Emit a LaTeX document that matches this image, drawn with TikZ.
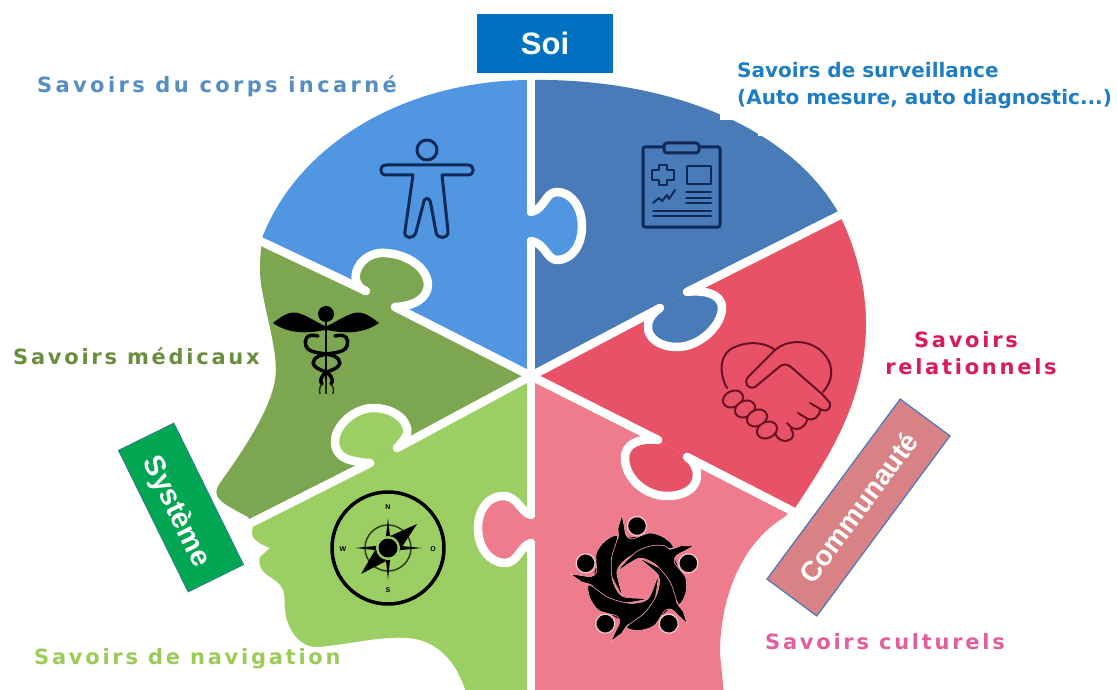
\documentclass[tikz,border=0pt]{standalone}
\usepackage{fontspec}
\setmainfont{Liberation Sans}
\newfontfamily\lblfont[LetterSpace=13]{DejaVu Sans Bold}
\newfontfamily\lblwide[LetterSpace=16]{DejaVu Sans Bold}
\newfontfamily\lbltight[LetterSpace=0]{DejaVu Sans Bold}
\definecolor{cBlue}{HTML}{5096E0}
\definecolor{cDBlue}{HTML}{4A7BB9}
\definecolor{cRed}{HTML}{E85266}
\definecolor{cPink}{HTML}{EF7C8C}
\definecolor{cLGreen}{HTML}{9BCF63}
\definecolor{cDGreen}{HTML}{7CA650}
\definecolor{cNavy}{HTML}{0F2A57}
\definecolor{cMaroon}{HTML}{6A1024}
\definecolor{cSoi}{RGB}{0,112,192}
\definecolor{cSys}{RGB}{0,166,81}
\definecolor{cSysB}{RGB}{70,100,170}
\definecolor{cCom}{RGB}{216,130,134}
\definecolor{cComB}{RGB}{70,120,190}
\definecolor{tCorps}{RGB}{86,142,196}
\definecolor{tSurv}{RGB}{30,125,195}
\definecolor{tMed}{RGB}{107,142,62}
\definecolor{tRel}{RGB}{216,27,95}
\definecolor{tCul}{RGB}{224,96,158}
\definecolor{tNav}{RGB}{155,203,88}
\tikzset{
  divider/.style={white,line width=8.5pt,line join=round,line cap=round},
  boxtext/.style={text=white,inner sep=0pt,align=center},
  lbl/.style={anchor=west,inner sep=0pt,font=\lblfont\fontsize{21}{21}\selectfont},
  lbltwo/.style={anchor=west,inner sep=0pt,font=\lbltight\fontsize{20}{20}\selectfont,text=tSurv},
  icon/.style={cNavy,line width=3pt,line join=round,line cap=round},
  shake/.style={cMaroon,line width=2pt,line join=round,line cap=round},
  cpt/.style={font=\bfseries\fontsize{7}{7}\selectfont,inner sep=0pt},
}
\newcommand\tabpiece[2]{%
  \fill[#1] #2 -- cycle;
  \draw[divider] #2;
}
\begin{document}
\begin{tikzpicture}[x=1pt,y=-1pt]
\useasboundingbox (0,0) rectangle (1117,690);
\fill[white] (0,0) rectangle (1117,690);
\coordinate (C) at (531,376);
% head and its sectors
\begin{scope}
\clip (262,238) .. controls (300,140) and (410,80) .. (531,80)
 .. controls (655,78) and (785,120) .. (838,212)
 .. controls (855,245) and (866,285) .. (866,323)
 .. controls (866,400) and (830,455) .. (795,508)
 -- (783,518) .. controls (740,545) and (720,600) .. (720,653) -- (724,695)
 -- (467,695) .. controls (458,665) and (440,640) .. (407,638)
 .. controls (380,636) and (345,645) .. (318,647)
 .. controls (300,648) and (287,630) .. (285,610)
 .. controls (284,600) and (286,592) .. (280,585)
 .. controls (275,578) and (262,575) .. (260,565)
 .. controls (259,561) and (259,558) .. (260,557)
 -- (270,548) .. controls (262,545) and (252,540) .. (252,533)
 -- (253,525) -- (248,517)
 .. controls (235,510) and (225,505) .. (220,500)
 .. controls (215,495) and (215,490) .. (220,483)
 .. controls (245,448) and (270,410) .. (275,380)
 .. controls (280,350) and (260,300) .. (260,270)
 .. controls (260,258) and (261,248) .. (262,238) -- cycle;
\fill[cBlue] (C) -- (395,307) -- (366,291) -- (263,243) -- (150,190) -- (150,0) -- (531,0) -- cycle;
\fill[cDBlue] (C) -- (531,0) -- (950,0) -- (950,160) -- (845,213) -- (687,292) -- (660,308) -- cycle;
\fill[cRed] (C) -- (660,308) -- (687,292) -- (845,213) -- (950,160) -- (950,570) -- (797,513) -- (687,457) -- (658,440) -- cycle;
\fill[cPink] (C) -- (658,440) -- (687,457) -- (797,513) -- (950,570) -- (950,700) -- (531,700) -- cycle;
\fill[cLGreen] (C) -- (531,700) -- (150,700) -- (150,570) -- (243,527) -- (370,463) -- (397,448) -- cycle;
\fill[cDGreen] (C) -- (397,448) -- (370,463) -- (243,527) -- (150,570) -- (150,190) -- (263,243) -- (366,291) -- (395,307) -- cycle;
\end{scope}
% straight dividers
\draw[divider] (531,74) -- (531,212);
\draw[divider] (531,241) -- (531,515);
\draw[divider] (531,543) -- (531,692);
\draw[divider] (258,240) -- (366,291);
\draw[divider] (395,307) -- (C);
\draw[divider] (846,212) -- (687,292);
\draw[divider] (660,308) -- (C);
\draw[divider] (C) -- (658,440);
\draw[divider] (687,457) -- (798,514);
\draw[divider] (C) -- (397,448);
\draw[divider] (370,463) -- (243,527);
% puzzle tabs
\tabpiece{cBlue}{(531,212) .. controls (545,209) and (545,192) .. (557,192) .. controls (572,192) and (582,208) .. (582,226) .. controls (582,245) and (572,260) .. (557,260) .. controls (547,260) and (545,243) .. (531,241)}
\tabpiece{cDGreen}{(366,291) .. controls (355,287) and (353,275) .. (359,266) .. controls (364,257) and (375,252) .. (385,253) .. controls (408,254) and (427,268) .. (428,284) .. controls (428,298) and (415,306) .. (395,307)}
\tabpiece{cDBlue}{(687,292) .. controls (700,290) and (722,292) .. (722,308) .. controls (722,325) and (700,347) .. (677,347) .. controls (660,347) and (647,338) .. (648,326) .. controls (648,318) and (654,312) .. (660,308)}
\tabpiece{cRed}{(658,440) .. controls (640,438) and (625,443) .. (625,458) .. controls (625,478) and (645,496) .. (667,496) .. controls (685,496) and (697,488) .. (697,475) .. controls (697,467) and (693,461) .. (687,457)}
\tabpiece{cPink}{(531,515) .. controls (520,512) and (518,496) .. (503,496) .. controls (488,496) and (478,510) .. (478,528) .. controls (478,548) and (490,563) .. (505,563) .. controls (518,563) and (520,546) .. (531,543)}
\tabpiece{cLGreen}{(397,448) .. controls (403,441) and (409,435) .. (407,428) .. controls (404,416) and (390,408) .. (373,408) .. controls (355,408) and (335,425) .. (335,442) .. controls (335,452) and (342,458) .. (350,460) .. controls (358,462) and (364,463) .. (370,463)}
% patch left by the label's white background
\fill[white] (720,55) -- (720,120) -- (747,120) -- (758,128) -- (758,136) -- (785,136) -- (785,55) -- cycle;
% person icon
\draw[icon] (427,150) circle (10);
\draw[icon] (386,165) -- (468,165) .. controls (475,165) and (475,175) .. (468,175) -- (442,175) -- (448,231) .. controls (449,239) and (437,240) .. (436,232) -- (431,205) .. controls (430,196) and (424,196) .. (423,205) -- (416,232) .. controls (414,240) and (403,239) .. (405,231) -- (413,175) -- (386,175) .. controls (379,175) and (379,165) .. (386,165) -- cycle;
% clipboard icon
\draw[icon,rounded corners=2pt] (643,147) rectangle (720,227);
\draw[icon,fill=cDBlue,rounded corners=3pt] (664,143) rectangle (699,153);
\draw[icon,line width=2.5pt] (659,165) -- (667,165) -- (667,170) -- (674,170) -- (674,180) -- (667,180) -- (667,185) -- (659,185) -- (659,180) -- (652,180) -- (652,170) -- (659,170) -- cycle;
\draw[icon,line width=2.5pt] (687,166) rectangle (711,184);
\draw[icon,line width=2pt] (653,203) -- (659,198) -- (662,201) -- (667,195) -- (669,199) -- (675,190);
\foreach \yy in {192,198,203} \draw[icon,line width=2pt] (686,\yy) -- (711,\yy);
\foreach \yy in {211,216} \draw[icon,line width=2pt] (653,\yy) -- (711,\yy);
% caduceus icon
\fill[black] (326,314) circle (8);
\fill[black] (273,323) .. controls (283,315) and (290,311) .. (298,313) .. controls (308,316) and (316,322) .. (325,326) -- (325,330) .. controls (310,333) and (290,335) .. (273,323) -- cycle;
\fill[black] (379,323) .. controls (369,315) and (362,311) .. (354,313) .. controls (344,316) and (336,322) .. (327,326) -- (327,330) .. controls (342,333) and (362,335) .. (379,323) -- cycle;
\draw[black,line width=2.5pt] (326,322) -- (326,380);
\draw[black,line width=3.5pt,line cap=round] (318,336) .. controls (306,333) and (304,340) .. (306,346) .. controls (309,354) and (322,352) .. (334,356) .. controls (342,360) and (342,366) .. (332,370) .. controls (324,373) and (318,378) .. (322,384);
\draw[black,line width=3.5pt,line cap=round] (335,336) .. controls (347,333) and (349,340) .. (347,346) .. controls (344,354) and (331,352) .. (319,356) .. controls (311,360) and (311,366) .. (321,370) .. controls (329,373) and (335,378) .. (331,384);
\draw[black!75!cDGreen,line width=1.4pt] (322,384) .. controls (319,388) and (319,391) .. (320,394);
\draw[black!75!cDGreen,line width=1.4pt] (331,384) .. controls (334,388) and (334,391) .. (333,394);
\draw[black!75!cDGreen,line width=1.2pt] (326,380) -- (326,394);
% handshake icon
\draw[shake] (727,388) .. controls (718,372) and (720,352) .. (735,347) .. controls (748,341) and (765,342) .. (775,350) -- (748,377) .. controls (743,384) and (749,390) .. (755,387) -- (778,368) .. controls (783,363) and (787,364) .. (791,367) -- (822,394);
\draw[shake] (775,350) .. controls (785,341) and (805,338) .. (820,350) .. controls (834,362) and (835,378) .. (823,392);
\draw[shake] (822,394) -- (830,403) .. controls (831,409) and (827,412) .. (822,410) -- (810,403);
\draw[shake] (820,409) .. controls (820,417) and (813,421) .. (808,419) -- (798,413);
\draw[shake] (807,420) .. controls (805,428) and (797,431) .. (792,428) -- (787,423);
\draw[shake] (775,432) .. controls (776,440) and (786,444) .. (792,438) .. controls (794,435) and (793,432) .. (791,429);
\foreach \px/\py in {733/399,745/409,757/418,767/430}
  \filldraw[shake,fill=cRed,rotate around={25:(\px,\py)}] (\px,\py) ellipse (10.5 and 8);
% compass icon
\draw[black,line width=3.5pt] (388,548) circle (56);
\draw[black!70!cLGreen,line width=1.5pt] (388,548) circle (23);
\fill[black] (388,518) -- (391,545) -- (422,548) -- (391,551) -- (388,580) -- (385,551) -- (355,548) -- (385,545) -- cycle;
\fill[black] (417,524) -- (396,556) -- (361,574) -- (381,540) -- cycle;
\fill[cLGreen] (388,548) circle (12);
\fill[black] (388,548) circle (9.5);
\node[cpt] (cN) at (388,507) {N};
\node[cpt] (cS) at (388,590) {S};
\node[cpt] (cW) at (343,549) {W};
\node[cpt] (cO) at (433,549) {O};
% people ring icon
\fill[black,even odd rule] (637,580) circle (43) (637,580) circle (25);
\foreach \a in {0,72,144,216,288}{
\begin{scope}[shift={(637,580)},rotate=\a]
\filldraw[black,draw=cPink!70!white,line width=0.6pt] plot[smooth,tension=0.5] coordinates {(-15,-65)(-13,-55)(-11,-45)(-5,-41)(13,-47)(28,-42)(36,-32)(13,-31)(-8,-23)(-20,-9)(-15,15)(-27,-8)(-28,-25)(-24,-37)(-19,-41)(-19,-52)} -- cycle;
\end{scope}}
\foreach \a in {0,72,144,216,288}{
\begin{scope}[shift={(637,580)},rotate=\a]
\filldraw[black,draw=cPink!40!white,line width=1.2pt] (0,-54) circle (9.5);
\end{scope}}
% tag boxes
\node[fill=cSoi,minimum width=136pt,minimum height=59pt,boxtext,font=\bfseries\fontsize{31}{31}\selectfont] (soi) at (545,43.5) {Soi};
\node[fill=cSys,draw=cSysB,line width=0.5pt,minimum width=158pt,minimum height=62pt,rotate=-63.8] (sys) at (181,507.5) {};
\node[boxtext,rotate=-63.8,font=\bfseries\fontsize{29}{29}\selectfont] (systxt) at (176,512) {Système};
\node[fill=cCom,draw=cComB,line width=1.2pt,minimum width=224pt,minimum height=62pt,rotate=53.5,boxtext,font=\bfseries\fontsize{28}{28}\selectfont] (com) at (858.5,507.5) {Communauté};
% labels
\node[lbl,text=tCorps,font=\lblwide\fontsize{21}{21}\selectfont] (l1) at (37,86) {Savoirs du corps incarné};
\node[lbltwo] (l2) at (737,70) {Savoirs de surveillance};
\node[lbltwo] (l2b) at (737,99) {(Auto mesure, auto diagnostic...)};
\node[lbl,text=tMed] (l3) at (13,356) {Savoirs médicaux};
\node[lbl,anchor=center,text=tRel] (l4) at (966,340) {Savoirs};
\node[lbl,anchor=center,text=tRel] (l4b) at (971,367) {relationnels};
\node[lbl,text=tCul] (l5) at (765,642) {Savoirs culturels};
\node[lbl,text=tNav] (l6) at (34,659) {Savoirs de navigation};
\end{tikzpicture}
\end{document}
